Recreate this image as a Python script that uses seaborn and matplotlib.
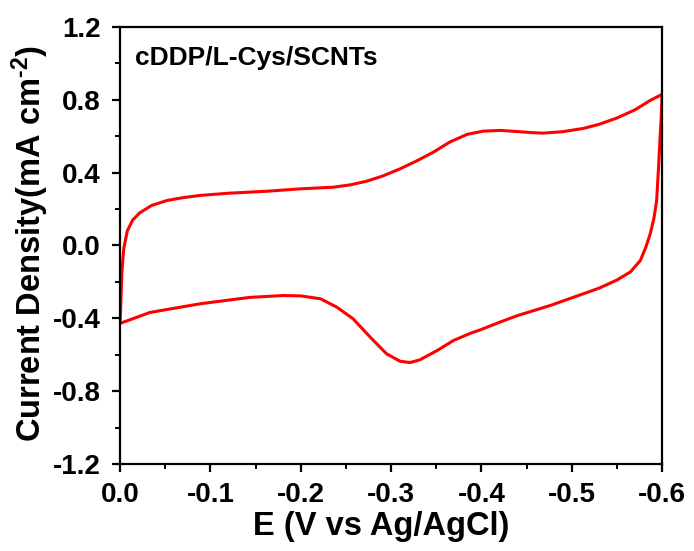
import matplotlib
matplotlib.use("Agg")
import matplotlib.pyplot as plt
import seaborn as sns
import pandas as pd
from matplotlib.ticker import MultipleLocator

# Forward (upper) branch: potential (V) and current density (mA cm^-2)
upper_E = [0.000, -0.001, -0.002, -0.004, -0.008, -0.014, -0.022, -0.035, -0.052, -0.070,
           -0.089, -0.120, -0.163, -0.199, -0.236, -0.255, -0.273, -0.291, -0.310, -0.329,
           -0.347, -0.365, -0.384, -0.402, -0.421, -0.439, -0.455, -0.468, -0.490,
           -0.513, -0.530, -0.550, -0.570, -0.587, -0.600]
upper_J = [-0.43, -0.30, -0.15, -0.02, 0.08, 0.14, 0.18, 0.22, 0.247, 0.263,
           0.275, 0.287, 0.298, 0.311, 0.320, 0.333, 0.353, 0.382, 0.421, 0.466,
           0.513, 0.568, 0.610, 0.628, 0.632, 0.626, 0.620, 0.617, 0.625,
           0.643, 0.665, 0.700, 0.745, 0.797, 0.830]
# Reverse (lower) branch
lower_E = [-0.600, -0.599, -0.598, -0.596, -0.594, -0.591, -0.587, -0.582, -0.576, -0.565,
           -0.550, -0.530, -0.513, -0.476, -0.440, -0.420, -0.399, -0.388, -0.369, -0.351,
           -0.332, -0.321, -0.310, -0.295, -0.277, -0.258, -0.240, -0.222, -0.200,
           -0.181, -0.144, -0.089, -0.033, 0.000]
lower_J = [0.830, 0.700, 0.615, 0.420, 0.247, 0.150, 0.066, -0.010, -0.082, -0.145,
           -0.190, -0.235, -0.265, -0.330, -0.385, -0.422, -0.463, -0.482, -0.522, -0.577,
           -0.628, -0.643, -0.636, -0.595, -0.504, -0.403, -0.339, -0.293, -0.277,
           -0.275, -0.285, -0.320, -0.368, -0.428]

x_ticks = [0.0, -0.1, -0.2, -0.3, -0.4, -0.5, -0.6]
y_ticks = [-1.2, -0.8, -0.4, 0.0, 0.4, 0.8, 1.2]

df = pd.DataFrame({
    "E": upper_E + lower_E[1:],
    "J": upper_J + lower_J[1:],
})

sns.set_style("ticks")
plt.rcParams["font.family"] = ["Liberation Sans", "DejaVu Sans"]
plt.rcParams["font.weight"] = "bold"
plt.rcParams["text.color"] = "black"
plt.rcParams["axes.labelcolor"] = "black"
plt.rcParams["xtick.color"] = "black"
plt.rcParams["ytick.color"] = "black"
plt.rcParams["mathtext.fontset"] = "custom"
plt.rcParams["mathtext.rm"] = "Liberation Sans:bold"
plt.rcParams["mathtext.default"] = "rm"

fig = plt.figure(figsize=(6.94, 5.51), dpi=100)
ax = fig.add_axes([0.173, 0.158, 0.781, 0.793])

sns.lineplot(data=df, x="E", y="J", sort=False, estimator=None, color="#ff0000",
             linewidth=2.2, ax=ax)
ax.lines[0].set_solid_joinstyle("round")

ax.set_xlim(0.0, -0.6)
ax.set_ylim(-1.2, 1.2)
ax.set_xticks(x_ticks)
ax.set_xticklabels(["0.0" if v == 0 else f"{v:.1f}" for v in x_ticks])
ax.set_yticks(y_ticks)
ax.set_yticklabels(["0.0" if v == 0 else f"{v:.1f}" for v in y_ticks])
ax.xaxis.set_minor_locator(MultipleLocator(0.05))
ax.yaxis.set_minor_locator(MultipleLocator(0.2))

for s in ax.spines.values():
    s.set_visible(True)
    s.set_linewidth(1.6)
    s.set_color("black")

ax.tick_params(axis="both", which="major", direction="out", length=6, width=1.6,
               labelsize=20, color="black", labelcolor="black")
ax.tick_params(axis="y", which="major", pad=8)
ax.tick_params(axis="x", which="major", pad=7)
ax.tick_params(axis="both", which="minor", direction="out", length=3.5, width=1.4,
               color="black")
ax.tick_params(top=False, right=False, which="both")
for lab in ax.get_xticklabels() + ax.get_yticklabels():
    lab.set_fontweight("bold")

ax.set_xlabel("E (V vs Ag/AgCl)", fontsize=23.5, fontweight="bold")
ax.set_ylabel("Current Density(mA cm$^{\u20102}$)", fontsize=23.5, fontweight="bold")
ax.xaxis.set_label_coords(0.482, -0.108)
ax.yaxis.set_label_coords(-0.128, 0.505)

ax.text(0.028, 0.93, "cDDP/L-Cys/SCNTs", transform=ax.transAxes, fontsize=19,
        fontweight="bold", va="center", ha="left")

fig.savefig("out.png", dpi=100, facecolor="white")
